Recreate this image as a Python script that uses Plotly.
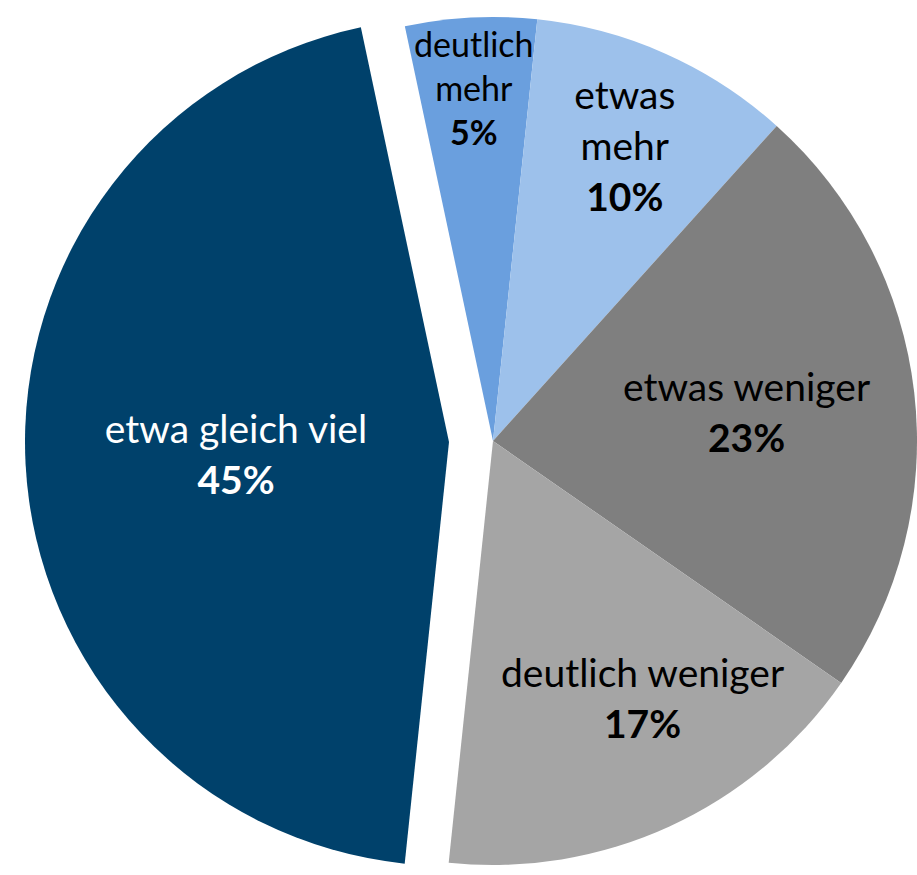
import math
import plotly.graph_objects as go

labels = ["deutlich mehr", "etwas mehr", "etwas weniger", "deutlich weniger", "etwa gleich viel"]
values = [5, 10, 23, 17, 45]
label_lines = ["deutlich<br>mehr", "etwas<br>mehr", "etwas weniger", "deutlich weniger", "etwa gleich viel"]
colors = ["#6A9FDE", "#9DC1EB", "#7F7F7F", "#A5A5A5", "#00416B"]
text_colors = ["#000000", "#000000", "#000000", "#000000", "#FFFFFF"]
pulled = [False, False, False, False, True]

ROT = -12
FONT = "Lato, Open Sans, sans-serif"
texts = [f"{l}<br><b>{v}%</b>" for l, v in zip(label_lines, values)]

# manual label placement for some slices: (radius fraction, angle offset deg, font size)
label_place = {0: (0.836, 0.0, 34), 3: (0.70, -5.6, 39)}

W, H = 917, 875
CX, CY, R = 493, 441, 424       # main pie (pixels)
PX, PY = 449, 442               # pulled slice apex

fig = go.Figure()
fig.add_trace(go.Pie(
    labels=labels, values=values, sort=False, direction="clockwise", rotation=ROT,
    marker=dict(colors=[("rgba(0,0,0,0)" if p else c) for c, p in zip(colors, pulled)],
                line=dict(width=0)),
    text=[("" if (p or i in label_place) else t) for i, (t, p) in enumerate(zip(texts, pulled))],
    textinfo="text", textposition="inside", insidetextorientation="horizontal",
    textfont=dict(family=FONT, size=39, color=text_colors),
    domain=dict(x=[(CX - R) / W, min(1.0, (CX + R) / W)], y=[1 - (CY + R) / H, 1 - (CY - R) / H]),
    showlegend=False, hoverinfo="label+percent",
))
fig.add_trace(go.Pie(
    labels=labels, values=values, sort=False, direction="clockwise", rotation=ROT,
    marker=dict(colors=[(c if p else "rgba(0,0,0,0)") for c, p in zip(colors, pulled)],
                line=dict(width=0)),
    text=[(t if p else "") for t, p in zip(texts, pulled)],
    textinfo="text", textposition="inside", insidetextorientation="horizontal",
    textfont=dict(family=FONT, size=39, color=text_colors),
    domain=dict(x=[(PX - R) / W, (PX + R) / W], y=[1 - (PY + R) / H, 1 - (PY - R) / H]),
    showlegend=False, hoverinfo="label+percent",
))

# labels placed at the slice's angle (computed from the values)
total = sum(values)
start = ROT
for i, (v, t, tc) in enumerate(zip(values, texts, text_colors)):
    span = 360 * v / total
    if i in label_place:
        frac, off, fs = label_place[i]
        ang = math.radians(start + span / 2 + off)
        rr = frac * R
        x = (CX + rr * math.sin(ang)) / W
        y = 1 - (CY - rr * math.cos(ang)) / H
        fig.add_annotation(x=x, y=y, xref="paper", yref="paper", text=t, showarrow=False,
                           font=dict(family=FONT, size=fs, color=tc),
                           xanchor="center", yanchor="middle")
    start += span

fig.update_layout(
    width=W, height=H, margin=dict(l=0, r=0, t=0, b=0),
    paper_bgcolor="white", plot_bgcolor="white",
)
fig.write_html("out.html", config={"displayModeBar": False},
               post_script="document.body.style.margin='0';document.body.style.overflow='hidden';")
